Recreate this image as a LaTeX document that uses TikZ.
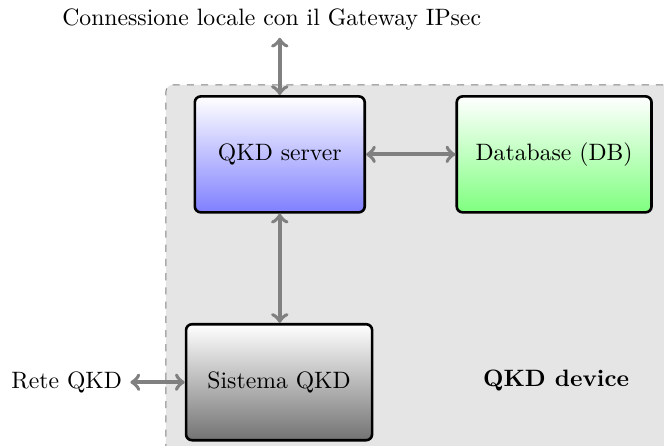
\documentclass[tikz,border=0pt]{standalone}
\usetikzlibrary{positioning}
\tikzset{
  blocco/.style={draw=black,line width=1.1pt,rounded corners=2.5pt,minimum width=#1,minimum height=1.72cm,align=center},
  blocco/.default=2.52cm,
  freccia/.style={<->,line width=1.6pt,gray}
}
\begin{document}
\begin{tikzpicture}
\useasboundingbox (0,0) rectangle (9.85,6.61);
% area del dispositivo
\draw[gray,dashed,fill=gray!20,rounded corners=3pt] (2.46,-0.5) -- (2.46,5.35) -- (10.5,5.35) -- (10.5,-0.5);

\node[blocco=2.52cm,top color=white,bottom color=blue!50] (server) at (4.15,4.32) {QKD server};
\node[blocco=2.89cm,top color=white,bottom color=green!50] (db) at (8.22,4.32) {Database (DB)};
\node[blocco=2.76cm,top color=white,bottom color=black!55] (sistema) at (4.14,0.94) {Sistema QKD};

\node (gateway) at (4.03,6.32) {Connessione locale con il Gateway IPsec};
\coordinate (gw) at (4.15,6.05);
\node (rete) at (0.99,0.94) {Rete QKD};
\node (device) at (8.25,0.96) {\textbf{QKD device}};

\draw[freccia] (gw) -- (server);
\draw[freccia] (server) -- (db);
\draw[freccia] (server.south) -- (server.south |- sistema.north);
\draw[freccia] (rete) -- (sistema);
\end{tikzpicture}
\end{document}
